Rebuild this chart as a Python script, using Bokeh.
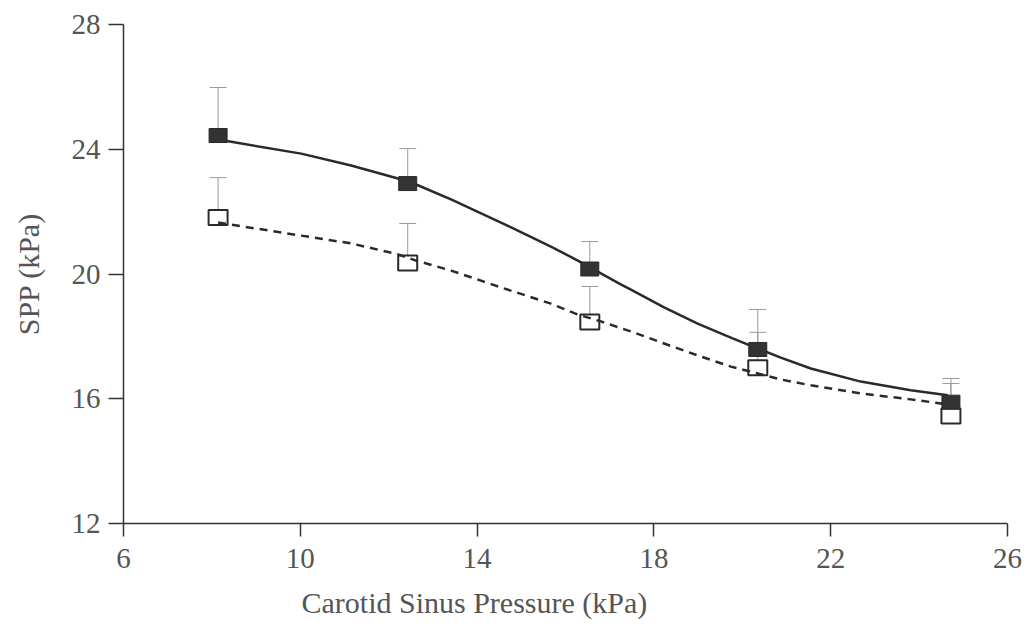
from bokeh.plotting import figure
from bokeh.models import Range1d, FixedTicker, Whisker, TeeHead, ColumnDataSource, Title
from bokeh.embed import file_html
from bokeh.resources import INLINE

# Data
csp = [8.14, 12.43, 16.55, 20.35, 24.72]            # carotid sinus pressure (kPa)
spp_filled = [24.44, 22.90, 20.16, 17.58, 15.89]     # filled squares
sem_filled = [1.54, 1.12, 0.88, 1.28, 0.76]
spp_open = [21.81, 20.35, 18.46, 16.99, 15.45]       # open squares
sem_open = [1.28, 1.27, 1.14, 1.14, 1.04]

# fitted curves
curve_x = [8.14, 10.02, 11.15, 12.21, 12.62, 13.41, 14.54, 15.67, 16.28, 16.80,
           17.26, 17.48, 18.23, 18.99, 19.74, 20.35, 20.87, 21.55, 22.68, 23.81, 24.65]
curve_filled = [24.31, 23.86, 23.48, 23.06, 22.87, 22.39, 21.65, 20.88, 20.43, 20.02,
                19.66, 19.50, 18.93, 18.41, 17.96, 17.61, 17.32, 16.97, 16.55, 16.27, 16.11]
curve_open = [21.65, 21.23, 20.98, 20.63, 20.43, 20.11, 19.57, 19.05, 18.70, 18.48,
              18.26, 18.16, 17.77, 17.39, 17.03, 16.81, 16.62, 16.43, 16.17, 15.98, 15.82]

x_ticks = [6, 10, 14, 18, 22, 26]
y_ticks = [12, 16, 20, 24, 28]

FONT = "Liberation Serif"
DARK = "#2a2a2a"
GRAY = "#555555"

p = figure(width=1032, height=638, output_backend="svg", toolbar_location=None,
           x_range=Range1d(6, 26), y_range=Range1d(12, 28),
           min_border_left=123, min_border_right=25, min_border_top=24, min_border_bottom=115)
p.outline_line_color = None
p.grid.visible = False
p.background_fill_color = "white"
p.border_fill_color = "white"

for ax, ticks, tout in ((p.xaxis[0], x_ticks, 13), (p.yaxis[0], y_ticks, 15)):
    ax.ticker = FixedTicker(ticks=ticks)
    ax.major_tick_out = tout
    ax.major_tick_in = 0
    ax.minor_tick_line_color = None
    ax.axis_line_color = "#333333"
    ax.axis_line_width = 1.5
    ax.major_tick_line_color = "#333333"
    ax.major_tick_line_width = 1.5
    ax.major_label_text_font = FONT
    ax.major_label_text_font_size = "29px"
    ax.major_label_text_color = GRAY
    ax.axis_label_text_font = FONT
    ax.axis_label_text_font_style = "normal"
    ax.axis_label_text_color = GRAY

p.xaxis[0].major_label_standoff = 12
p.yaxis[0].axis_label = "SPP (kPa)"
p.yaxis[0].axis_label_text_font_size = "30px"
p.yaxis[0].major_label_standoff = 8
p.yaxis[0].axis_label_standoff = 24

# x axis title, placed where the reference has it (left of the frame centre)
p.add_layout(Title(text="Carotid Sinus Pressure (kPa)", align="left", offset=178,
                   text_font=FONT, text_font_size="30px", text_color=GRAY,
                   text_font_style="normal", standoff=27), "below")

# error bars (upper only)
src_f = ColumnDataSource(dict(x=csp, y=spp_filled,
                              up=[v + e for v, e in zip(spp_filled, sem_filled)]))
src_o = ColumnDataSource(dict(x=csp, y=spp_open,
                              up=[v + e for v, e in zip(spp_open, sem_open)]))
for src in (src_f, src_o):
    w = Whisker(source=src, base="x", lower="y", upper="up", dimension="height",
                line_color="#9a9a9a", line_width=1,
                upper_head=TeeHead(size=17, line_color="#9a9a9a", line_width=1),
                lower_head=None)
    p.add_layout(w)

# open squares (under the dashed curve)
p.rect(x="x", y="y", source=src_o, width=19, height=15, width_units="screen",
       height_units="screen", fill_color="white", line_color=DARK, line_width=2)

# curves
p.line(curve_x, curve_filled, line_color=DARK, line_width=2.5, line_join="round")
p.line(curve_x, curve_open, line_color=DARK, line_width=2.5, line_dash="8 6",
       line_join="round")

# filled squares
p.rect(x="x", y="y", source=src_f, width=18, height=14, width_units="screen",
       height_units="screen", fill_color="#333333", line_color=DARK, line_width=1)

open("out.html", "w").write(file_html(p, INLINE))
